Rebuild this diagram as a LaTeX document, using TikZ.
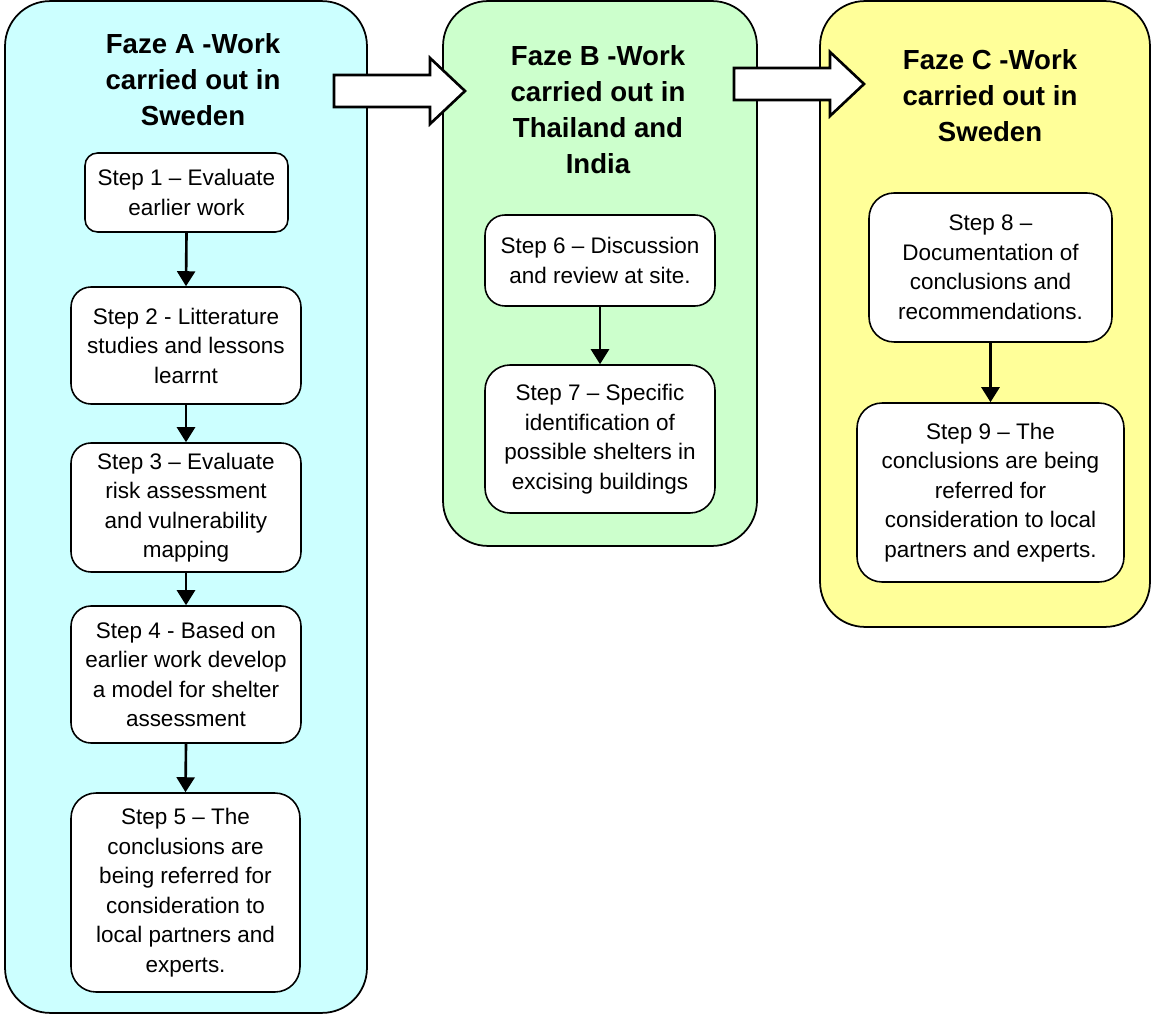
\documentclass[tikz,border=0pt]{standalone}
\usepackage{fontspec}
\setmainfont{Liberation Sans}
\usepackage{tikz}
\usetikzlibrary{arrows.meta, positioning}
\definecolor{fazeA}{HTML}{CCFFFF}
\definecolor{fazeB}{HTML}{CCFFCC}
\definecolor{fazeC}{HTML}{FFFF99}

\begin{document}
\begin{tikzpicture}[
        x=0.02cm, y=-0.02cm,
        faze/.style={draw, line width=1pt, rounded corners=0.9cm, inner sep=0pt},
        rubrik/.style={font=\fontsize{15.7}{20.5}\selectfont\bfseries, align=center},
        stepbox/.style={draw, fill=white, line width=0.9pt, rounded corners=0.4cm,
                        align=center, inner sep=0pt, font=\fontsize{12.8}{16.8}\selectfont},
        pil/.style={-{Triangle[width=0.36cm, length=0.3cm]}, line width=1.5pt},
        blockpil/.style={draw, fill=white, line width=1.5pt, line join=miter},
      ]
      \useasboundingbox (0,0) rectangle (1152,1016);

      % Phasen
      \node[faze, fill=fazeA, minimum width=7.24cm, minimum height=20.24cm] (fazA) at (186,507) {};
      \node[faze, fill=fazeB, minimum width=6.28cm, minimum height=10.9cm] (fazB) at (600,273.5) {};
      \node[faze, fill=fazeC, minimum width=6.6cm, minimum height=12.52cm] (fazC) at (985,314) {};

      % Blockpfeile
      \draw[blockpil] (334,75) -- (430,75) -- (430,58) -- (465,91) -- (430,124) -- (430,107) -- (334,107) -- cycle;
      \draw[blockpil] (734,68) -- (830,68) -- (830,52) -- (864,84) -- (830,116) -- (830,100) -- (734,100) -- cycle;

      % Rubriken
      \node[rubrik] (tA) at (193,80) {Faze A -Work\\carried out in\\Sweden};
      \node[rubrik] (tB) at (598,110) {Faze B -Work\\carried out in\\Thailand and\\India};
      \node[rubrik] (tC) at (990,96) {Faze C -Work\\carried out in\\Sweden};

      % Schritte Faze A
      \node[stepbox, rounded corners=0.25cm, minimum width=4.06cm, minimum height=1.58cm] (s1) at (186.5,192.5)
        {Step 1 – Evaluate\\earlier work};
      \node[stepbox, minimum width=4.6cm, minimum height=2.34cm] (s2) at (186,345.5)
        {Step 2 - Litterature\\studies and lessons\\learrnt};
      \node[stepbox, minimum width=4.6cm, minimum height=2.58cm] (s3) at (186,507.5)
        {Step 3 – Evaluate\\risk assessment\\and vulnerability\\mapping};
      \node[stepbox, minimum width=4.6cm, minimum height=2.74cm] (s4) at (186,674.5)
        {Step 4 - Based on\\earlier work develop\\a model for shelter\\assessment};
      \node[stepbox, rounded corners=0.5cm, minimum width=4.58cm, minimum height=3.98cm] (s5) at (185.5,892.5)
        {Step 5 – The\\conclusions are\\being referred for\\consideration to\\local partners and\\experts.};

      % Schritte Faze B
      \node[stepbox, minimum width=4.6cm, minimum height=1.82cm] (s6) at (600,260.5)
        {Step 6 – Discussion\\and review at site.};
      \node[stepbox, rounded corners=0.5cm, minimum width=4.6cm, minimum height=2.96cm] (s7) at (600,439)
        {Step 7 – Specific\\identification of\\possible shelters in\\excising buildings};

      % Schritte Faze C
      \node[stepbox, rounded corners=0.5cm, minimum width=4.86cm, minimum height=2.98cm] (s8) at (990.5,267.5)
        {Step 8 –\\Documentation of\\conclusions and\\recommendations.};
      \node[stepbox, rounded corners=0.5cm, minimum width=5.34cm, minimum height=3.58cm] (s9) at (990.5,492.5)
        {Step 9 – The\\conclusions are being\\referred for\\consideration to local\\partners and experts.};

      % Verbindungen
      \draw[pil] (s1.south) -- (s2.north);
      \draw[pil] (s2.south) -- (s3.north);
      \draw[pil] (s3.south) -- (s4.north);
      \draw[pil] (s4.south) -- (s5.north);
      \draw[pil] (s6.south) -- (s7.north);
      \draw[pil] (s8.south) -- (s9.north);
    \end{tikzpicture}
\end{document}
